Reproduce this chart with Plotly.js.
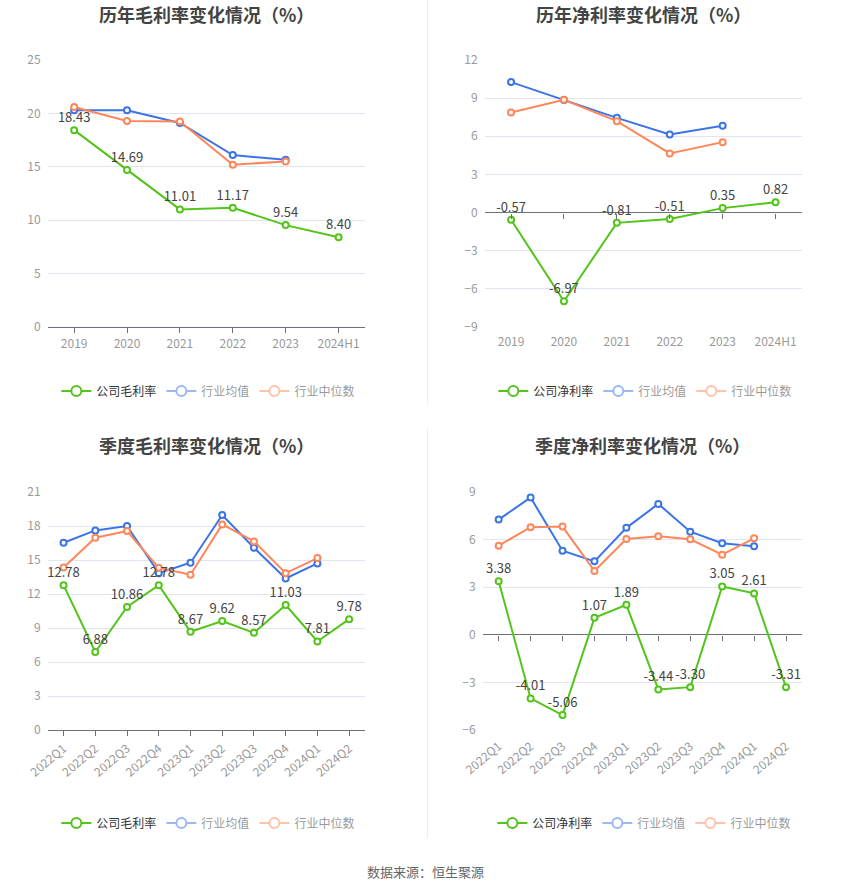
<!DOCTYPE html>
<html>
<head>
<meta charset="utf-8">
<script src="https://cdn.plot.ly/plotly-3.0.1.min.js"></script>
<style>html,body{margin:0;padding:0;background:#fff;}#chart{width:850px;height:891px;}</style>
</head>
<body>
<div id="chart"></div>
<script>
// ---- data ----
const yearCats = ['2019', '2020', '2021', '2022', '2023', '2024H1'];
const quarterCats = ['2022Q1', '2022Q2', '2022Q3', '2022Q4', '2023Q1', '2023Q2', '2023Q3', '2023Q4', '2024Q1', '2024Q2'];

const yearGrossCompany = [18.43, 14.69, 11.01, 11.17, 9.54, 8.40];
const yearGrossIndAvg = [20.3, 20.3, 19.1, 16.1, 15.65, null];
const yearGrossIndMed = [20.6, 19.3, 19.25, 15.2, 15.5, null];

const yearNetCompany = [-0.57, -6.97, -0.81, -0.51, 0.35, 0.82];
const yearNetIndAvg = [10.26, 8.85, 7.45, 6.14, 6.82, null];
const yearNetIndMed = [7.87, 8.87, 7.19, 4.65, 5.54, null];

const qGrossCompany = [12.78, 6.88, 10.86, 12.78, 8.67, 9.62, 8.57, 11.03, 7.81, 9.78];
const qGrossIndAvg = [16.52, 17.61, 18.0, 13.84, 14.76, 18.97, 16.08, 13.37, 14.7, null];
const qGrossIndMed = [14.34, 16.97, 17.55, 14.31, 13.7, 18.14, 16.64, 13.84, 15.17, null];

const qNetCompany = [3.38, -4.01, -5.06, 1.07, 1.89, -3.44, -3.30, 3.05, 2.61, -3.31];
const qNetIndAvg = [7.26, 8.65, 5.3, 4.63, 6.74, 8.25, 6.5, 5.77, 5.58, null];
const qNetIndMed = [5.62, 6.78, 6.82, 4.02, 6.04, 6.21, 6.02, 5.05, 6.08, null];

const titles = ['历年毛利率变化情况（%）', '历年净利率变化情况（%）', '季度毛利率变化情况（%）', '季度净利率变化情况（%）'];
const companyNames = ['公司毛利率', '公司净利率', '公司毛利率', '公司净利率'];
const avgName = '行业均值';
const medName = '行业中位数';

// ---- styles ----
const GREEN = '#52c41a', BLUE = '#3a74e6', ORANGE = '#ff8659';
const FONT = '"Noto Sans CJK SC", "Noto Sans", sans-serif';

const panels = [
  {cats: yearCats, comp: yearGrossCompany, avg: yearGrossIndAvg, med: yearGrossIndMed, range: [0, 25], dtick: 5,
   xd: [47.7 / 850, 365 / 850], yd: [1 - 327 / 891, 1 - 60 / 891], angle: 0, legendY: 1 - 391 / 891},
  {cats: yearCats, comp: yearNetCompany, avg: yearNetIndAvg, med: yearNetIndMed, range: [-9, 12], dtick: 3,
   xd: [484.6 / 850, 802 / 850], yd: [1 - 327 / 891, 1 - 60 / 891], angle: 0, legendY: 1 - 391 / 891},
  {cats: quarterCats, comp: qGrossCompany, avg: qGrossIndAvg, med: qGrossIndMed, range: [0, 21], dtick: 3,
   xd: [47.7 / 850, 365 / 850], yd: [1 - 730 / 891, 1 - 492 / 891], angle: -40, legendY: 1 - 823 / 891},
  {cats: quarterCats, comp: qNetCompany, avg: qNetIndAvg, med: qNetIndMed, range: [-6, 9], dtick: 3,
   xd: [482.7 / 850, 802 / 850], yd: [1 - 730 / 891, 1 - 492 / 891], angle: -40, legendY: 1 - 823 / 891}
];

const traces = [];
const layout = {
  width: 850, height: 891,
  margin: {l: 0, r: 0, t: 0, b: 0},
  paper_bgcolor: '#fff', plot_bgcolor: '#fff',
  font: {family: FONT, color: '#333', size: 12},
  showlegend: true,
  annotations: [],
  shapes: []
};

function lineTrace(p, name, y, color, i, extra) {
  const ax = i === 0 ? '' : String(i + 1);
  return Object.assign({
    type: 'scatter', mode: 'lines+markers', name: name,
    x: p.cats, y: y, xaxis: 'x' + ax, yaxis: 'y' + ax,
    line: {color: color, width: 2},
    marker: {symbol: 'circle', size: 6, color: '#fff', line: {color: color, width: 2}},
    hoverinfo: 'skip', cliponaxis: false, connectgaps: false,
    legend: 'legend' + ax, showlegend: false
  }, extra || {});
}

const legendMarker = (c) => ({symbol: 'circle', size: 10, color: '#fff', line: {color: c, width: 2}});

panels.forEach((p, i) => {
  const ax = i === 0 ? '' : String(i + 1);
  const hasNeg = p.range[0] < 0;
  // drawn series
  traces.push(lineTrace(p, avgName, p.avg, BLUE, i));
  traces.push(lineTrace(p, medName, p.med, ORANGE, i));
  traces.push(lineTrace(p, companyNames[i], p.comp, GREEN, i, {
    mode: 'lines+markers+text', texttemplate: '%{y:.2f}', textposition: 'top center',
    textfont: {family: FONT, size: 13, color: '#444'}
  }));
  // legend entries (no marks drawn)
  const nulls = p.cats.map(() => null);
  traces.push(lineTrace(p, companyNames[i], nulls, GREEN, i, {showlegend: true, marker: legendMarker(GREEN), line: {color: GREEN, width: 2}}));
  traces.push(lineTrace(p, avgName, nulls, BLUE, i, {showlegend: true, visible: 'legendonly', marker: legendMarker(BLUE)}));
  traces.push(lineTrace(p, medName, nulls, ORANGE, i, {showlegend: true, visible: 'legendonly', marker: legendMarker(ORANGE)}));

  layout['xaxis' + ax] = {
    domain: p.xd, anchor: 'y' + ax, type: 'category',
    categoryorder: 'array', categoryarray: p.cats,
    range: [-0.5, p.cats.length - 0.5],
    showgrid: false, zeroline: false,
    showline: !hasNeg, linecolor: '#6e7079', linewidth: 1,
    ticks: hasNeg ? '' : 'outside', ticklen: 5, tickcolor: '#6e7079',
    tickangle: p.angle,
    tickfont: {family: FONT, size: 12, color: '#999'},
    ticklabelstandoff: hasNeg ? 6 : 1,
    fixedrange: true
  };
  layout['yaxis' + ax] = {
    domain: p.yd, anchor: 'x' + ax, range: p.range, dtick: p.dtick, tick0: 0,
    showgrid: true, gridcolor: '#e0e6f1', gridwidth: 1,
    zeroline: hasNeg, zerolinecolor: '#6e7079', zerolinewidth: 1,
    showline: false, ticks: '',
    tickfont: {family: FONT, size: 12, color: '#999'},
    ticklabelstandoff: 6,
    fixedrange: true
  };

  if (hasNeg) {
    // category tick marks on the zero line
    const oax = String(i + 5);
    const zeroPos = p.yd[0] + (0 - p.range[0]) / (p.range[1] - p.range[0]) * (p.yd[1] - p.yd[0]);
    layout['xaxis' + oax] = {
      domain: p.xd, overlaying: 'x' + ax, anchor: 'free', position: zeroPos, type: 'category',
      categoryorder: 'array', categoryarray: p.cats,
      range: [-0.5, p.cats.length - 0.5],
      showgrid: false, zeroline: false, showline: false,
      ticks: 'outside', ticklen: 5, tickcolor: '#6e7079', showticklabels: false,
      fixedrange: true
    };
    traces.push({type: 'scatter', mode: 'markers', x: p.cats, y: nulls,
      xaxis: 'x' + oax, yaxis: 'y' + ax, showlegend: false, hoverinfo: 'skip'});
  }

  layout['legend' + ax] = {
    orientation: 'h', x: (p.xd[0] + p.xd[1]) / 2 + 2 / 850, xanchor: 'center',
    y: p.legendY, yanchor: 'middle',
    font: {family: FONT, size: 12, color: '#333'},
    itemwidth: 30, itemclick: false, itemdoubleclick: false,
    bgcolor: 'rgba(0,0,0,0)', tracegroupgap: 0
  };

  layout.annotations.push({
    text: '<b>' + titles[i] + '</b>', showarrow: false,
    xref: 'paper', yref: 'paper',
    x: (p.xd[0] + p.xd[1]) / 2, xanchor: 'center',
    y: i < 2 ? 1 - 14 / 891 : 1 - 445 / 891, yanchor: 'middle',
    font: {family: FONT, size: 18, color: '#444'}
  });
});

layout.annotations.push({
  text: '数据来源：恒生聚源', showarrow: false, xref: 'paper', yref: 'paper',
  x: 0.5, xanchor: 'center', y: 1 - 871 / 891, yanchor: 'middle',
  font: {family: FONT, size: 13, color: '#666'}
});

// faint vertical separators
layout.shapes.push(
  {type: 'line', xref: 'paper', yref: 'paper', x0: 427.5 / 850, x1: 427.5 / 850, y0: 1 - 405 / 891, y1: 1, line: {color: '#eeeeee', width: 1}},
  {type: 'line', xref: 'paper', yref: 'paper', x0: 427.5 / 850, x1: 427.5 / 850, y0: 1 - 838 / 891, y1: 1 - 428 / 891, line: {color: '#eeeeee', width: 1}}
);

Plotly.newPlot('chart', traces, layout, {displayModeBar: false, staticPlot: true});
</script>
</body>
</html>
